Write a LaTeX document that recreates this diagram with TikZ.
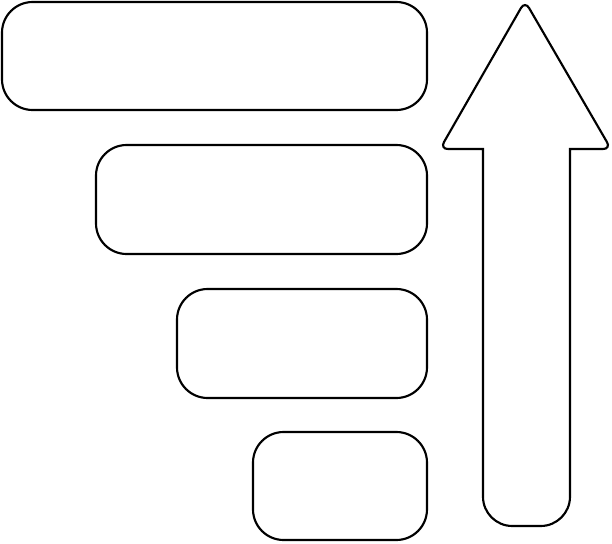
\documentclass[tikz,border=0pt]{standalone}
\usepackage{tikz}

\begin{document}
\begin{tikzpicture}[x=0.75pt,y=-0.75pt,line width=1.6pt,
    bar/.style={draw,rounded corners=23pt}]
          \useasboundingbox (0,0) rectangle (612,544);
          \draw[bar] (2,2) rectangle (427,110);
          \draw[bar] (96,145) rectangle (427,254);
          \draw[bar] (177,289) rectangle (427,398);
          \draw[bar] (253,432) rectangle (427,540);
          \draw (483,149) [rounded corners=6pt] -- (440,149) -- (525,1) -- (611,149) [sharp corners] -- (570,149) [rounded corners=22pt] -- (570,526) -- (483,526) [sharp corners] -- cycle;
        \end{tikzpicture}
\end{document}
